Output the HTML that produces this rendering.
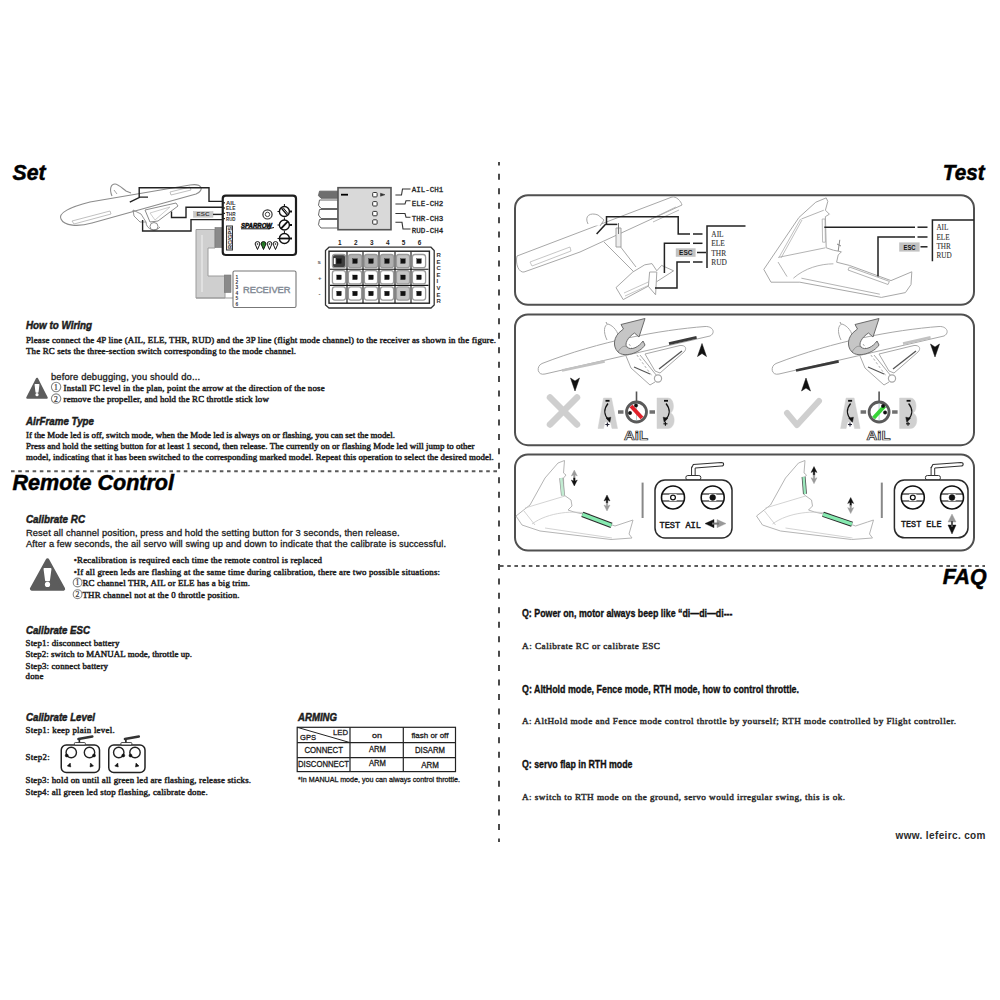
<!DOCTYPE html>
<html><head><meta charset="utf-8"><title>manual</title>
<style>html,body{margin:0;padding:0;background:#fff;width:1000px;height:1000px;overflow:hidden}svg{display:block}</style>
</head><body>
<svg width="1000" height="1000" viewBox="0 0 1000 1000">
<rect width="1000" height="1000" fill="#fff"/>
<line x1="499" y1="173.8" x2="499" y2="842" stroke="#4a4a4a" stroke-width="2" stroke-dasharray="6 8.45"/>
<line x1="499" y1="162" x2="499" y2="165.5" stroke="#4a4a4a" stroke-width="2"/>
<line x1="11" y1="471.2" x2="497" y2="471.2" stroke="#5a5a5a" stroke-width="2" stroke-dasharray="3.6 3.6"/>
<line x1="500" y1="565.9" x2="985" y2="565.9" stroke="#5a5a5a" stroke-width="2" stroke-dasharray="3.6 3.6"/>
<text x="12.6" y="179.6" font-family="Liberation Sans, sans-serif" font-weight="bold" font-style="italic" font-size="22" fill="#000" stroke="#000" stroke-width="0.5" textLength="33" lengthAdjust="spacingAndGlyphs">Set</text>
<text x="942.8" y="180.2" font-family="Liberation Sans, sans-serif" font-weight="bold" font-style="italic" font-size="21.5" fill="#000" stroke="#000" stroke-width="0.5" textLength="41.8" lengthAdjust="spacingAndGlyphs">Test</text>
<text x="12.5" y="490.3" font-family="Liberation Sans, sans-serif" font-weight="bold" font-style="italic" font-size="21.5" fill="#000" stroke="#000" stroke-width="0.5" textLength="161.5" lengthAdjust="spacingAndGlyphs">Remote Control</text>
<text x="942.7" y="583.5" font-family="Liberation Sans, sans-serif" font-weight="bold" font-style="italic" font-size="21.5" fill="#000" stroke="#000" stroke-width="0.5" textLength="44" lengthAdjust="spacingAndGlyphs">FAQ</text>
<text x="26" y="329" font-family="Liberation Sans, sans-serif" font-weight="bold" font-style="italic" font-size="11.2" fill="#1c1c1c" stroke="#1c1c1c" stroke-width="0.5" textLength="66" lengthAdjust="spacingAndGlyphs">How to Wiring</text>
<text x="26" y="342.5" font-family="Liberation Serif, sans-serif" font-weight="normal" font-style="normal" font-size="8.9" fill="#222" stroke="#222" stroke-width="0.46" textLength="470" lengthAdjust="spacing">Please connect the 4P line (AIL, ELE, THR, RUD) and the 3P line (flight mode channel) to the receiver as shown in the figure.</text>
<text x="26" y="353.75" font-family="Liberation Serif, sans-serif" font-weight="normal" font-style="normal" font-size="8.9" fill="#222" stroke="#222" stroke-width="0.46" textLength="270" lengthAdjust="spacing">The RC sets the three-section switch corresponding to the mode channel.</text>
<text x="51" y="379.5" font-family="Liberation Sans, sans-serif" font-weight="normal" font-style="normal" font-size="9.4" fill="#1c1c1c" stroke="#1c1c1c" stroke-width="0.3" textLength="149" lengthAdjust="spacing">before debugging, you should do...</text>
<text x="63.6" y="391" font-family="Liberation Serif, sans-serif" font-weight="normal" font-style="normal" font-size="8.9" fill="#222" stroke="#222" stroke-width="0.46" textLength="261" lengthAdjust="spacing">Install FC level in the plan, point the arrow at the direction of the nose</text>
<circle cx="56.1" cy="387" r="4.7" stroke="#888" stroke-width="1.1" fill="none"/>
<text x="53.9" y="389.9" font-family="Liberation Serif, sans-serif" font-weight="normal" font-style="normal" font-size="7.6" fill="#333" stroke="#333" stroke-width="0.2">1</text>
<text x="63.6" y="402" font-family="Liberation Serif, sans-serif" font-weight="normal" font-style="normal" font-size="8.9" fill="#222" stroke="#222" stroke-width="0.46" textLength="205.2" lengthAdjust="spacing">remove the propeller, and hold the RC throttle stick low</text>
<circle cx="56.1" cy="398.6" r="4.7" stroke="#888" stroke-width="1.1" fill="none"/>
<text x="53.9" y="401.5" font-family="Liberation Serif, sans-serif" font-weight="normal" font-style="normal" font-size="7.6" fill="#333" stroke="#333" stroke-width="0.2">2</text>
<text x="26" y="425" font-family="Liberation Sans, sans-serif" font-weight="bold" font-style="italic" font-size="11.2" fill="#1c1c1c" stroke="#1c1c1c" stroke-width="0.5" textLength="68" lengthAdjust="spacingAndGlyphs">AirFrame Type</text>
<text x="26" y="437.5" font-family="Liberation Serif, sans-serif" font-weight="normal" font-style="normal" font-size="8.9" fill="#222" stroke="#222" stroke-width="0.46" textLength="369" lengthAdjust="spacing">If the Mode led is off, switch mode, when the Mode led is always on or flashing, you can set the model.</text>
<text x="26" y="448.75" font-family="Liberation Serif, sans-serif" font-weight="normal" font-style="normal" font-size="8.9" fill="#222" stroke="#222" stroke-width="0.46" textLength="448.5" lengthAdjust="spacing">Press and hold the setting button for at least 1 second, then release. The currently on or flashing Mode led will jump to other</text>
<text x="26" y="459.5" font-family="Liberation Serif, sans-serif" font-weight="normal" font-style="normal" font-size="8.9" fill="#222" stroke="#222" stroke-width="0.46" textLength="467.75" lengthAdjust="spacing">model, indicating that it has been switched to the corresponding marked model. Repeat this operation to select the desired model.</text>
<text x="26" y="522.5" font-family="Liberation Sans, sans-serif" font-weight="bold" font-style="italic" font-size="11.2" fill="#1c1c1c" stroke="#1c1c1c" stroke-width="0.5" textLength="59" lengthAdjust="spacingAndGlyphs">Calibrate RC</text>
<text x="26" y="535.5" font-family="Liberation Sans, sans-serif" font-weight="normal" font-style="normal" font-size="9.3" fill="#1c1c1c" stroke="#1c1c1c" stroke-width="0.3" textLength="373.5" lengthAdjust="spacing">Reset all channel position, press and hold the setting button for 3 seconds, then release.</text>
<text x="26" y="547" font-family="Liberation Sans, sans-serif" font-weight="normal" font-style="normal" font-size="9.3" fill="#1c1c1c" stroke="#1c1c1c" stroke-width="0.3" textLength="420" lengthAdjust="spacing">After a few seconds, the ail servo will swing up and down to indicate that the calibrate is successful.</text>
<text x="73.75" y="563" font-family="Liberation Serif, sans-serif" font-weight="normal" font-style="normal" font-size="8.9" fill="#222" stroke="#222" stroke-width="0.46" textLength="248.25" lengthAdjust="spacing">•Recalibration is required each time the remote control is replaced</text>
<text x="73.75" y="575" font-family="Liberation Serif, sans-serif" font-weight="normal" font-style="normal" font-size="8.9" fill="#222" stroke="#222" stroke-width="0.46" textLength="366.25" lengthAdjust="spacing">•If all green leds are flashing at the same time during calibration, there are two possible situations:</text>
<text x="82.5" y="586" font-family="Liberation Serif, sans-serif" font-weight="normal" font-style="normal" font-size="8.9" fill="#222" stroke="#222" stroke-width="0.46" textLength="167.5" lengthAdjust="spacing">RC channel THR, AIL or ELE has a big trim.</text>
<circle cx="77.6" cy="582.5" r="4.4" stroke="#888" stroke-width="1.1" fill="none"/>
<text x="75.39999999999999" y="585.4" font-family="Liberation Serif, sans-serif" font-weight="normal" font-style="normal" font-size="7.6" fill="#333" stroke="#333" stroke-width="0.2">1</text>
<text x="82.5" y="597.5" font-family="Liberation Serif, sans-serif" font-weight="normal" font-style="normal" font-size="8.9" fill="#222" stroke="#222" stroke-width="0.46" textLength="157" lengthAdjust="spacing">THR channel not at the 0 throttle position.</text>
<circle cx="77.6" cy="594.2" r="4.4" stroke="#888" stroke-width="1.1" fill="none"/>
<text x="75.39999999999999" y="597.1" font-family="Liberation Serif, sans-serif" font-weight="normal" font-style="normal" font-size="7.6" fill="#333" stroke="#333" stroke-width="0.2">2</text>
<text x="26" y="633.5" font-family="Liberation Sans, sans-serif" font-weight="bold" font-style="italic" font-size="11.2" fill="#1c1c1c" stroke="#1c1c1c" stroke-width="0.5" textLength="64" lengthAdjust="spacingAndGlyphs">Calibrate ESC</text>
<text x="25.6" y="646" font-family="Liberation Serif, sans-serif" font-weight="normal" font-style="normal" font-size="8.9" fill="#222" stroke="#222" stroke-width="0.46" textLength="93.8" lengthAdjust="spacing">Step1: disconnect battery</text>
<text x="25.6" y="657.4" font-family="Liberation Serif, sans-serif" font-weight="normal" font-style="normal" font-size="8.9" fill="#222" stroke="#222" stroke-width="0.46" textLength="166.4" lengthAdjust="spacing">Step2: switch to MANUAL mode, throttle up.</text>
<text x="25.6" y="669" font-family="Liberation Serif, sans-serif" font-weight="normal" font-style="normal" font-size="8.9" fill="#222" stroke="#222" stroke-width="0.46" textLength="82.4" lengthAdjust="spacing">Step3: connect battery</text>
<text x="25.6" y="679.4" font-family="Liberation Serif, sans-serif" font-weight="normal" font-style="normal" font-size="8.9" fill="#222" stroke="#222" stroke-width="0.46" textLength="17.8" lengthAdjust="spacing">done</text>
<text x="26" y="720.5" font-family="Liberation Sans, sans-serif" font-weight="bold" font-style="italic" font-size="11.2" fill="#1c1c1c" stroke="#1c1c1c" stroke-width="0.5" textLength="69" lengthAdjust="spacingAndGlyphs">Calibrate Level</text>
<text x="25.6" y="733" font-family="Liberation Serif, sans-serif" font-weight="normal" font-style="normal" font-size="8.9" fill="#222" stroke="#222" stroke-width="0.46" textLength="89" lengthAdjust="spacing">Step1: keep plain level.</text>
<text x="25.6" y="759.5" font-family="Liberation Serif, sans-serif" font-weight="normal" font-style="normal" font-size="8.9" fill="#222" stroke="#222" stroke-width="0.46" textLength="24" lengthAdjust="spacing">Step2:</text>
<text x="25.6" y="782.5" font-family="Liberation Serif, sans-serif" font-weight="normal" font-style="normal" font-size="8.9" fill="#222" stroke="#222" stroke-width="0.46" textLength="225.4" lengthAdjust="spacing">Step3: hold on until all green led are flashing, release sticks.</text>
<text x="25.6" y="794.5" font-family="Liberation Serif, sans-serif" font-weight="normal" font-style="normal" font-size="8.9" fill="#222" stroke="#222" stroke-width="0.46" textLength="182" lengthAdjust="spacing">Step4: all green led stop flashing, calibrate done.</text>
<text x="298" y="720.5" font-family="Liberation Sans, sans-serif" font-weight="bold" font-style="italic" font-size="11.2" fill="#1c1c1c" stroke="#1c1c1c" stroke-width="0.5" textLength="39" lengthAdjust="spacingAndGlyphs">ARMING</text>
<rect x="297.2" y="727.3" width="158.3" height="44.3" rx="0" stroke="#222" stroke-width="1.2" fill="none"/>
<line x1="350" y1="727.3" x2="350" y2="771.6" stroke="#222" stroke-width="1.2"/>
<line x1="403.3" y1="727.3" x2="403.3" y2="771.6" stroke="#222" stroke-width="1.2"/>
<line x1="297.2" y1="742.6" x2="455.5" y2="742.6" stroke="#222" stroke-width="1.2"/>
<line x1="297.2" y1="757.6" x2="455.5" y2="757.6" stroke="#222" stroke-width="1.2"/>
<line x1="297.2" y1="727.3" x2="350" y2="742.6" stroke="#222" stroke-width="1"/>
<text x="333" y="735" font-family="Liberation Sans, sans-serif" font-weight="normal" font-style="normal" font-size="8" fill="#1c1c1c" stroke="#1c1c1c" stroke-width="0.3" textLength="15" lengthAdjust="spacingAndGlyphs">LED</text>
<text x="300" y="740" font-family="Liberation Sans, sans-serif" font-weight="normal" font-style="normal" font-size="8" fill="#1c1c1c" stroke="#1c1c1c" stroke-width="0.3" textLength="16" lengthAdjust="spacingAndGlyphs">GPS</text>
<text x="372" y="738" font-family="Liberation Sans, sans-serif" font-weight="normal" font-style="normal" font-size="8" fill="#1c1c1c" stroke="#1c1c1c" stroke-width="0.3" textLength="10" lengthAdjust="spacingAndGlyphs">on</text>
<text x="411.4" y="738" font-family="Liberation Sans, sans-serif" font-weight="normal" font-style="normal" font-size="8" fill="#1c1c1c" stroke="#1c1c1c" stroke-width="0.3" textLength="37" lengthAdjust="spacingAndGlyphs">flash or off</text>
<text x="304.4" y="753" font-family="Liberation Sans, sans-serif" font-weight="normal" font-style="normal" font-size="8.4" fill="#1c1c1c" stroke="#1c1c1c" stroke-width="0.3" textLength="38.6" lengthAdjust="spacingAndGlyphs">CONNECT</text>
<text x="369" y="752" font-family="Liberation Sans, sans-serif" font-weight="normal" font-style="normal" font-size="8.4" fill="#1c1c1c" stroke="#1c1c1c" stroke-width="0.3" textLength="17" lengthAdjust="spacingAndGlyphs">ARM</text>
<text x="415" y="752.5" font-family="Liberation Sans, sans-serif" font-weight="normal" font-style="normal" font-size="8.4" fill="#1c1c1c" stroke="#1c1c1c" stroke-width="0.3" textLength="30" lengthAdjust="spacingAndGlyphs">DISARM</text>
<text x="298" y="767.4" font-family="Liberation Sans, sans-serif" font-weight="normal" font-style="normal" font-size="8.4" fill="#1c1c1c" stroke="#1c1c1c" stroke-width="0.3" textLength="51" lengthAdjust="spacingAndGlyphs">DISCONNECT</text>
<text x="369" y="766" font-family="Liberation Sans, sans-serif" font-weight="normal" font-style="normal" font-size="8.4" fill="#1c1c1c" stroke="#1c1c1c" stroke-width="0.3" textLength="17" lengthAdjust="spacingAndGlyphs">ARM</text>
<text x="421.3" y="768" font-family="Liberation Sans, sans-serif" font-weight="normal" font-style="normal" font-size="8.4" fill="#1c1c1c" stroke="#1c1c1c" stroke-width="0.3" textLength="17.7" lengthAdjust="spacingAndGlyphs">ARM</text>
<text x="298" y="781.8" font-family="Liberation Sans, sans-serif" font-weight="normal" font-style="normal" font-size="7.2" fill="#1c1c1c" stroke="#1c1c1c" stroke-width="0.3" textLength="162" lengthAdjust="spacingAndGlyphs">*In MANUAL mode, you can always control throttle.</text>
<text x="522" y="617" font-family="Liberation Sans, sans-serif" font-weight="bold" font-style="normal" font-size="10.8" fill="#111" stroke="#111" stroke-width="0.35" textLength="210.5" lengthAdjust="spacingAndGlyphs">Q: Power on, motor always beep like “di—di—di---</text>
<text x="522" y="648.5" font-family="Liberation Serif, sans-serif" font-weight="normal" font-style="normal" font-size="9.2" fill="#2e2e2e" stroke="#2e2e2e" stroke-width="0.46" textLength="138" lengthAdjust="spacing">A: Calibrate RC or calibrate ESC</text>
<text x="522" y="693" font-family="Liberation Sans, sans-serif" font-weight="bold" font-style="normal" font-size="10.8" fill="#111" stroke="#111" stroke-width="0.35" textLength="277" lengthAdjust="spacingAndGlyphs">Q: AltHold mode, Fence mode, RTH mode, how to control throttle.</text>
<text x="522" y="724" font-family="Liberation Serif, sans-serif" font-weight="normal" font-style="normal" font-size="9.2" fill="#2e2e2e" stroke="#2e2e2e" stroke-width="0.46" textLength="434" lengthAdjust="spacing">A: AltHold mode and Fence mode control throttle by yourself; RTH mode controlled by Flight controller.</text>
<text x="522" y="768" font-family="Liberation Sans, sans-serif" font-weight="bold" font-style="normal" font-size="10.8" fill="#111" stroke="#111" stroke-width="0.35" textLength="110.5" lengthAdjust="spacingAndGlyphs">Q: servo flap in RTH mode</text>
<text x="522" y="800" font-family="Liberation Serif, sans-serif" font-weight="normal" font-style="normal" font-size="9.2" fill="#2e2e2e" stroke="#2e2e2e" stroke-width="0.46" textLength="323" lengthAdjust="spacing">A: switch to RTH mode on the ground, servo would irregular swing, this is ok.</text>
<text x="895.5" y="838.5" font-family="Liberation Sans, sans-serif" font-weight="bold" font-style="normal" font-size="10" fill="#2a2a2a" textLength="90" lengthAdjust="spacing">www. lefeirc. com</text>
<path d="M61,219 C58,213 70,207 90,202 L190,185 C202,183 205,190 196,194 L92,223 C78,227 64,226 61,219 Z" stroke="#8c8c8c" stroke-width="1.1" fill="#fff"/>
<path d="M72,221 L110,211 L111,214 L74,224 Z" stroke="#b0b0b0" stroke-width="0.8" fill="none"/>
<path d="M170,192 L190,187 L191,190 L171,195 Z" stroke="#b0b0b0" stroke-width="0.8" fill="none"/>
<path d="M112,196 C109,189 111,184 115,184 C118,184 122,188 126,191 L131,193" stroke="#8c8c8c" stroke-width="1.1" fill="#fff"/>
<path d="M114,190 L117,194" stroke="#8c8c8c" stroke-width="0.8" fill="none"/>
<path d="M145,210 L176,203 L178,206 L158,221 L150,222 Z" stroke="#8c8c8c" stroke-width="1" fill="none"/>
<path d="M150,213 L170,207 L155,220 Z" stroke="#c0c0c0" stroke-width="0.8" fill="none"/>
<path d="M133,210 L141,214 L146,222 L140,222 L134,216 Z" stroke="#8c8c8c" stroke-width="0.9" fill="none"/>
<circle cx="154" cy="226.5" r="4" stroke="#8c8c8c" stroke-width="1" fill="none"/>
<path d="M146,222 C146,230 156,232 160,227" stroke="#8c8c8c" stroke-width="1" fill="none"/>
<polyline points="129.8,202.2 140,197.1 148,197.1" stroke="#222" stroke-width="1.4" fill="none"/>
<polyline points="139.2,197 139.2,187.8 209,187.8 209,201.4 223,201.4" stroke="#222" stroke-width="1.4" fill="none"/>
<polyline points="171.5,211.6 171.5,217.5 186,217.5 186,207.3 223,207.3" stroke="#222" stroke-width="1.4" fill="none"/>
<rect x="193.6" y="211.6" width="19.4" height="5.6" rx="0" stroke="#bbb" stroke-width="0.5" fill="#c9c9c9"/>
<text x="196.5" y="216.4" font-family="Liberation Sans, sans-serif" font-weight="bold" font-style="normal" font-size="5.2" fill="#444" textLength="13" lengthAdjust="spacingAndGlyphs">ESC</text>
<line x1="213" y1="214.4" x2="223" y2="214.4" stroke="#222" stroke-width="1.4"/>
<polyline points="223,219.6 191,219.6 191,231 142.6,231 142.6,220" stroke="#222" stroke-width="1.4" fill="none"/>
<polygon points="215,229.5 196,229.5 196,298 225,298 225,276 208,276 208,248 215,248" stroke="#9c9c9c" stroke-width="1" fill="#cfcfcf"/>
<line x1="202" y1="235" x2="202" y2="292" stroke="#e6e6e6" stroke-width="1.5"/>
<line x1="196" y1="298" x2="233" y2="298" stroke="#999" stroke-width="1.2"/>
<rect x="215" y="227.5" width="7.5" height="20" rx="0" stroke="#777" stroke-width="0.6" fill="#8a8a8a"/>
<rect x="222.75" y="195.6" width="73.25" height="59.4" rx="3" stroke="#1e1e1e" stroke-width="2.2" fill="#fff"/>
<text x="226" y="205" font-family="Liberation Sans, sans-serif" font-weight="bold" font-style="normal" font-size="5.6" fill="#333" textLength="9.5" lengthAdjust="spacingAndGlyphs">AIL</text>
<line x1="222" y1="202.8" x2="225" y2="202.8" stroke="#222" stroke-width="1.2"/>
<text x="226" y="210.2" font-family="Liberation Sans, sans-serif" font-weight="bold" font-style="normal" font-size="5.6" fill="#333" textLength="9.5" lengthAdjust="spacingAndGlyphs">ELE</text>
<line x1="222" y1="208.0" x2="225" y2="208.0" stroke="#222" stroke-width="1.2"/>
<text x="226" y="215.6" font-family="Liberation Sans, sans-serif" font-weight="bold" font-style="normal" font-size="5.6" fill="#333" textLength="9.5" lengthAdjust="spacingAndGlyphs">THR</text>
<line x1="222" y1="213.4" x2="225" y2="213.4" stroke="#222" stroke-width="1.2"/>
<text x="226" y="220.8" font-family="Liberation Sans, sans-serif" font-weight="bold" font-style="normal" font-size="5.6" fill="#333" textLength="9.5" lengthAdjust="spacingAndGlyphs">RUD</text>
<line x1="222" y1="218.60000000000002" x2="225" y2="218.60000000000002" stroke="#222" stroke-width="1.2"/>
<rect x="226.5" y="226" width="6" height="24" rx="0" stroke="#333" stroke-width="1" fill="#eee"/>
<text transform="translate(231.6,249) rotate(-90)" font-family="Liberation Sans, sans-serif" font-weight="bold" font-size="5.5" fill="#333" textLength="22" lengthAdjust="spacingAndGlyphs">RC/GPS</text>
<circle cx="267.5" cy="214.4" r="4.6" stroke="#333" stroke-width="1.2" fill="#fff"/>
<circle cx="267.5" cy="214.4" r="2.2" stroke="#444" stroke-width="1" fill="#fff"/>
<text x="241" y="227.5" font-family="Liberation Sans, sans-serif" font-weight="bold" font-style="italic" font-size="6.5" fill="#111" stroke="#111" stroke-width="0.5" textLength="31" lengthAdjust="spacingAndGlyphs">SPARROW</text>
<line x1="241" y1="228.8" x2="270" y2="228.8" stroke="#111" stroke-width="1"/>
<path d="M268,228.8 L274,227.5" stroke="#111" stroke-width="1" fill="none"/>
<circle cx="284.4" cy="211.5" r="5" stroke="#111" stroke-width="1.4" fill="#fff"/>
<line x1="281.5" y1="208.3" x2="287" y2="214.9" stroke="#111" stroke-width="1.4"/>
<line x1="283" y1="207.5" x2="288.2" y2="213.9" stroke="#111" stroke-width="1.0"/>
<line x1="277.5" y1="211.5" x2="279.4" y2="211.5" stroke="#111" stroke-width="1"/>
<line x1="289.4" y1="211.5" x2="292" y2="211.5" stroke="#111" stroke-width="2"/>
<line x1="284.4" y1="204.0" x2="284.4" y2="206.5" stroke="#111" stroke-width="1"/>
<circle cx="284.4" cy="225" r="5" stroke="#111" stroke-width="1.4" fill="#fff"/>
<line x1="281" y1="228.6" x2="287.8" y2="221.4" stroke="#111" stroke-width="1.8"/>
<line x1="277.5" y1="225" x2="279.4" y2="225" stroke="#111" stroke-width="1"/>
<line x1="289.4" y1="225" x2="292" y2="225" stroke="#111" stroke-width="2"/>
<line x1="284.4" y1="217.5" x2="284.4" y2="220" stroke="#111" stroke-width="1"/>
<circle cx="284.4" cy="238.5" r="5" stroke="#111" stroke-width="1.4" fill="#fff"/>
<line x1="279.8" y1="238.5" x2="289" y2="238.5" stroke="#111" stroke-width="1.8"/>
<line x1="277.5" y1="238.5" x2="279.4" y2="238.5" stroke="#111" stroke-width="1"/>
<line x1="289.4" y1="238.5" x2="292" y2="238.5" stroke="#111" stroke-width="2"/>
<line x1="284.4" y1="231.0" x2="284.4" y2="233.5" stroke="#111" stroke-width="1"/>
<path d="M255.1,244 A2.4,2.4 0 1 1 259.9,244 L257.5,249.5 Z" stroke="#111" stroke-width="1" fill="#fff"/>
<circle cx="257.5" cy="244" r="0.8" stroke="none" stroke-width="0" fill="#111"/>
<path d="M261.1,244 A2.4,2.4 0 1 1 265.9,244 L263.5,249.5 Z" stroke="#111" stroke-width="1" fill="#2a8a2a"/>
<circle cx="263.5" cy="244" r="0.8" stroke="none" stroke-width="0" fill="#1a5a1a"/>
<path d="M267.1,244 A2.4,2.4 0 1 1 271.9,244 L269.5,249.5 Z" stroke="#111" stroke-width="1" fill="#fff"/>
<circle cx="269.5" cy="244" r="0.8" stroke="none" stroke-width="0" fill="#111"/>
<path d="M273.1,244 A2.4,2.4 0 1 1 277.9,244 L275.5,249.5 Z" stroke="#111" stroke-width="1" fill="#fff"/>
<circle cx="275.5" cy="244" r="0.8" stroke="none" stroke-width="0" fill="#111"/>
<rect x="224.4" y="275" width="6.6" height="17.5" rx="0" stroke="#777" stroke-width="0.6" fill="#8a8a8a"/>
<rect x="233" y="271" width="63" height="36.5" rx="1.5" stroke="#777" stroke-width="1.1" fill="#fff"/>
<text x="235.5" y="278.5" font-family="Liberation Sans, sans-serif" font-weight="bold" font-style="normal" font-size="4.8" fill="#334">1</text>
<text x="235.5" y="283.9" font-family="Liberation Sans, sans-serif" font-weight="bold" font-style="normal" font-size="4.8" fill="#334">2</text>
<text x="235.5" y="289.3" font-family="Liberation Sans, sans-serif" font-weight="bold" font-style="normal" font-size="4.8" fill="#334">3</text>
<text x="235.5" y="294.7" font-family="Liberation Sans, sans-serif" font-weight="bold" font-style="normal" font-size="4.8" fill="#334">4</text>
<text x="235.5" y="300.1" font-family="Liberation Sans, sans-serif" font-weight="bold" font-style="normal" font-size="4.8" fill="#334">5</text>
<text x="235.5" y="305.5" font-family="Liberation Sans, sans-serif" font-weight="bold" font-style="normal" font-size="4.8" fill="#334">6</text>
<text x="243" y="292.7" font-family="Liberation Sans, sans-serif" font-weight="normal" font-style="normal" font-size="9.6" fill="#848c96" stroke="#848c96" stroke-width="0.45" textLength="47.5" lengthAdjust="spacingAndGlyphs">RECEIVER</text>
<polygon points="319.5,191.2 338,191.2 338,198.2 321,198.2 318.5,195.7" stroke="#666" stroke-width="1" fill="#6e6e6e"/>
<polygon points="319.5,200 338,200 338,208.5 321,208.5 318.5,205.25" stroke="#666" stroke-width="1" fill="#fff"/>
<polygon points="319.5,209.5 338,209.5 338,218.5 321,218.5 318.5,215.0" stroke="#666" stroke-width="1" fill="#fff"/>
<polygon points="319.5,219.5 338,219.5 338,228 321,228 318.5,224.75" stroke="#666" stroke-width="1" fill="#fff"/>
<rect x="338" y="187.7" width="53" height="42" rx="0" stroke="#555" stroke-width="1.6" fill="#d9d9d9"/>
<line x1="341" y1="194.7" x2="348" y2="194.7" stroke="#000" stroke-width="1.8"/>
<rect x="372.7" y="192.5" width="4.4" height="4.4" rx="0.8" stroke="#333" stroke-width="1" fill="#fff"/>
<rect x="372.7" y="201.60000000000002" width="4.4" height="4.4" rx="0.8" stroke="#333" stroke-width="1" fill="#fff"/>
<rect x="372.7" y="211.4" width="4.4" height="4.4" rx="0.8" stroke="#333" stroke-width="1" fill="#fff"/>
<rect x="372.7" y="219.8" width="4.4" height="4.4" rx="0.8" stroke="#333" stroke-width="1" fill="#fff"/>
<polygon points="380.5,193.2 385,194.7 380.5,196.2" stroke="#333" stroke-width="0.5" fill="#333"/>
<polyline points="395.4,195 401.5,195 402.5,189 410.5,189" stroke="#333" stroke-width="1.1" fill="none"/>
<polyline points="395.4,204 405,204 406,200.8 410.5,200.8" stroke="#333" stroke-width="1.1" fill="none"/>
<polyline points="395.4,213.5 405,213.5 406,217.2 410.5,217.2" stroke="#333" stroke-width="1.1" fill="none"/>
<polyline points="395.4,222.3 402,222.3 403,229 410.5,229" stroke="#333" stroke-width="1.1" fill="none"/>
<text x="411.8" y="192.2" font-family="Liberation Mono, sans-serif" font-weight="normal" font-style="normal" font-size="8" fill="#222" stroke="#222" stroke-width="0.3" textLength="31.5" lengthAdjust="spacingAndGlyphs">AIL-CH1</text>
<text x="411.8" y="206.2" font-family="Liberation Mono, sans-serif" font-weight="normal" font-style="normal" font-size="8" fill="#222" stroke="#222" stroke-width="0.3" textLength="31.5" lengthAdjust="spacingAndGlyphs">ELE-CH2</text>
<text x="411.8" y="221.2" font-family="Liberation Mono, sans-serif" font-weight="normal" font-style="normal" font-size="8" fill="#222" stroke="#222" stroke-width="0.3" textLength="31.5" lengthAdjust="spacingAndGlyphs">THR-CH3</text>
<text x="411.8" y="233.3" font-family="Liberation Mono, sans-serif" font-weight="normal" font-style="normal" font-size="8" fill="#222" stroke="#222" stroke-width="0.3" textLength="31.5" lengthAdjust="spacingAndGlyphs">RUD-CH4</text>
<text x="338.09999999999997" y="245.2" font-family="Liberation Sans, sans-serif" font-weight="bold" font-style="normal" font-size="6.4" fill="#222">1</text>
<text x="353.9" y="245.2" font-family="Liberation Sans, sans-serif" font-weight="bold" font-style="normal" font-size="6.4" fill="#222">2</text>
<text x="370.0" y="245.2" font-family="Liberation Sans, sans-serif" font-weight="bold" font-style="normal" font-size="6.4" fill="#222">3</text>
<text x="386.0" y="245.2" font-family="Liberation Sans, sans-serif" font-weight="bold" font-style="normal" font-size="6.4" fill="#222">4</text>
<text x="401.79999999999995" y="245.2" font-family="Liberation Sans, sans-serif" font-weight="bold" font-style="normal" font-size="6.4" fill="#222">5</text>
<text x="417.79999999999995" y="245.2" font-family="Liberation Sans, sans-serif" font-weight="bold" font-style="normal" font-size="6.4" fill="#222">6</text>
<polygon points="329,247.2 431,247.2 434.2,250.5 434.2,305 431,308 329,308 325.5,305 325.5,250.5" stroke="#333" stroke-width="1.3" fill="#fff"/>
<rect x="329" y="251.2" width="100.4" height="52" rx="0" stroke="#222" stroke-width="1.4" fill="#fff"/>
<line x1="347" y1="252" x2="347" y2="303" stroke="#111" stroke-width="1.1"/>
<line x1="363" y1="252" x2="363" y2="303" stroke="#111" stroke-width="1.1"/>
<line x1="379" y1="252" x2="379" y2="303" stroke="#111" stroke-width="1.1"/>
<line x1="395" y1="252" x2="395" y2="303" stroke="#111" stroke-width="1.1"/>
<line x1="411" y1="252" x2="411" y2="303" stroke="#111" stroke-width="1.1"/>
<line x1="330" y1="269.2" x2="428.5" y2="269.2" stroke="#111" stroke-width="1.1"/>
<line x1="330" y1="285.4" x2="428.5" y2="285.4" stroke="#111" stroke-width="1.1"/>
<rect x="332.4" y="254.50000000000003" width="13.2" height="13.2" rx="2.5" stroke="#9a9a9a" stroke-width="1.3" fill="#3e3e3e"/>
<rect x="333.8" y="258.1" width="1.8" height="6" rx="0" stroke="none" stroke-width="0" fill="#fff"/>
<rect x="336.7" y="258.8" width="4.6" height="4.6" rx="0" stroke="#111" stroke-width="0.3" fill="#111"/>
<rect x="348.4" y="254.50000000000003" width="13.2" height="13.2" rx="2.5" stroke="#9a9a9a" stroke-width="1.3" fill="#b0b0b0"/>
<rect x="352.7" y="258.8" width="4.6" height="4.6" rx="0" stroke="#111" stroke-width="0.3" fill="#111"/>
<rect x="364.4" y="254.50000000000003" width="13.2" height="13.2" rx="2.5" stroke="#9a9a9a" stroke-width="1.3" fill="#b0b0b0"/>
<rect x="368.7" y="258.8" width="4.6" height="4.6" rx="0" stroke="#111" stroke-width="0.3" fill="#111"/>
<rect x="380.4" y="254.50000000000003" width="13.2" height="13.2" rx="2.5" stroke="#9a9a9a" stroke-width="1.3" fill="#b0b0b0"/>
<rect x="384.7" y="258.8" width="4.6" height="4.6" rx="0" stroke="#111" stroke-width="0.3" fill="#111"/>
<rect x="396.4" y="254.50000000000003" width="13.2" height="13.2" rx="2.5" stroke="#9a9a9a" stroke-width="1.3" fill="#c4c4c4"/>
<rect x="400.7" y="258.8" width="4.6" height="4.6" rx="0" stroke="#111" stroke-width="0.3" fill="#111"/>
<rect x="412.4" y="254.50000000000003" width="13.2" height="13.2" rx="2.5" stroke="#9a9a9a" stroke-width="1.3" fill="#fff"/>
<rect x="416.7" y="258.8" width="4.6" height="4.6" rx="0" stroke="#111" stroke-width="0.3" fill="#111"/>
<rect x="332.4" y="270.7" width="13.2" height="13.2" rx="2.5" stroke="#9a9a9a" stroke-width="1.3" fill="#fff"/>
<rect x="336.7" y="275.0" width="4.6" height="4.6" rx="0" stroke="#111" stroke-width="0.3" fill="#111"/>
<rect x="348.4" y="270.7" width="13.2" height="13.2" rx="2.5" stroke="#9a9a9a" stroke-width="1.3" fill="#fff"/>
<rect x="352.7" y="275.0" width="4.6" height="4.6" rx="0" stroke="#111" stroke-width="0.3" fill="#111"/>
<rect x="364.4" y="270.7" width="13.2" height="13.2" rx="2.5" stroke="#9a9a9a" stroke-width="1.3" fill="#fff"/>
<rect x="368.7" y="275.0" width="4.6" height="4.6" rx="0" stroke="#111" stroke-width="0.3" fill="#111"/>
<rect x="380.4" y="270.7" width="13.2" height="13.2" rx="2.5" stroke="#9a9a9a" stroke-width="1.3" fill="#fff"/>
<rect x="384.7" y="275.0" width="4.6" height="4.6" rx="0" stroke="#111" stroke-width="0.3" fill="#111"/>
<rect x="396.4" y="270.7" width="13.2" height="13.2" rx="2.5" stroke="#9a9a9a" stroke-width="1.3" fill="#c4c4c4"/>
<rect x="400.7" y="275.0" width="4.6" height="4.6" rx="0" stroke="#111" stroke-width="0.3" fill="#111"/>
<rect x="412.4" y="270.7" width="13.2" height="13.2" rx="2.5" stroke="#9a9a9a" stroke-width="1.3" fill="#fff"/>
<rect x="416.7" y="275.0" width="4.6" height="4.6" rx="0" stroke="#111" stroke-width="0.3" fill="#111"/>
<rect x="332.4" y="286.9" width="13.2" height="13.2" rx="2.5" stroke="#9a9a9a" stroke-width="1.3" fill="#fff"/>
<rect x="336.7" y="291.2" width="4.6" height="4.6" rx="0" stroke="#111" stroke-width="0.3" fill="#111"/>
<rect x="348.4" y="286.9" width="13.2" height="13.2" rx="2.5" stroke="#9a9a9a" stroke-width="1.3" fill="#fff"/>
<rect x="352.7" y="291.2" width="4.6" height="4.6" rx="0" stroke="#111" stroke-width="0.3" fill="#111"/>
<rect x="364.4" y="286.9" width="13.2" height="13.2" rx="2.5" stroke="#9a9a9a" stroke-width="1.3" fill="#fff"/>
<rect x="368.7" y="291.2" width="4.6" height="4.6" rx="0" stroke="#111" stroke-width="0.3" fill="#111"/>
<rect x="380.4" y="286.9" width="13.2" height="13.2" rx="2.5" stroke="#9a9a9a" stroke-width="1.3" fill="#fff"/>
<rect x="384.7" y="291.2" width="4.6" height="4.6" rx="0" stroke="#111" stroke-width="0.3" fill="#111"/>
<rect x="396.4" y="286.9" width="13.2" height="13.2" rx="2.5" stroke="#9a9a9a" stroke-width="1.3" fill="#c4c4c4"/>
<rect x="400.7" y="291.2" width="4.6" height="4.6" rx="0" stroke="#111" stroke-width="0.3" fill="#111"/>
<rect x="412.4" y="286.9" width="13.2" height="13.2" rx="2.5" stroke="#9a9a9a" stroke-width="1.3" fill="#fff"/>
<rect x="416.7" y="291.2" width="4.6" height="4.6" rx="0" stroke="#111" stroke-width="0.3" fill="#111"/>
<text x="317.5" y="263.5" font-family="Liberation Sans, sans-serif" font-weight="bold" font-style="normal" font-size="6" fill="#555">s</text>
<text x="318" y="279.5" font-family="Liberation Sans, sans-serif" font-weight="bold" font-style="normal" font-size="6" fill="#555">+</text>
<text x="318.5" y="295.5" font-family="Liberation Sans, sans-serif" font-weight="bold" font-style="normal" font-size="6" fill="#555">-</text>
<text x="436.5" y="257.0" font-family="Liberation Sans, sans-serif" font-weight="bold" font-style="normal" font-size="6" fill="#333">R</text>
<text x="436.5" y="263.6" font-family="Liberation Sans, sans-serif" font-weight="bold" font-style="normal" font-size="6" fill="#333">E</text>
<text x="436.5" y="270.2" font-family="Liberation Sans, sans-serif" font-weight="bold" font-style="normal" font-size="6" fill="#333">C</text>
<text x="436.5" y="276.8" font-family="Liberation Sans, sans-serif" font-weight="bold" font-style="normal" font-size="6" fill="#333">E</text>
<text x="436.5" y="283.4" font-family="Liberation Sans, sans-serif" font-weight="bold" font-style="normal" font-size="6" fill="#333">I</text>
<text x="436.5" y="290.0" font-family="Liberation Sans, sans-serif" font-weight="bold" font-style="normal" font-size="6" fill="#333">V</text>
<text x="436.5" y="296.6" font-family="Liberation Sans, sans-serif" font-weight="bold" font-style="normal" font-size="6" fill="#333">E</text>
<text x="436.5" y="303.2" font-family="Liberation Sans, sans-serif" font-weight="bold" font-style="normal" font-size="6" fill="#333">R</text>
<polygon points="37.0,378.82 46.68,397.68 27.32,397.68" stroke="#5c5c5c" stroke-width="2.2" fill="#5c5c5c" stroke-linejoin="round"/>
<polygon points="35.13,384.595 38.87,384.595 37.935,392.12 36.065,392.12" stroke="#fff" stroke-width="1.122" fill="#fff" stroke-linejoin="round"/>
<circle cx="37.0" cy="394.7" r="1.5895000000000001" stroke="none" stroke-width="0" fill="#fff"/>
<polygon points="47.5,560.16 63.34,588.84 31.66,588.84" stroke="#5c5c5c" stroke-width="3.6" fill="#5c5c5c" stroke-linejoin="round"/>
<polygon points="44.44,568.89 50.56,568.89 49.03,580.44 45.97,580.44" stroke="#fff" stroke-width="1.8359999999999999" fill="#fff" stroke-linejoin="round"/>
<circle cx="47.5" cy="584.4" r="2.601" stroke="none" stroke-width="0" fill="#fff"/>
<rect x="515" y="195.2" width="459" height="109.6" rx="13" stroke="#505050" stroke-width="2" fill="none"/>
<rect x="515" y="314.4" width="459" height="130.8" rx="13" stroke="#505050" stroke-width="2" fill="none"/>
<rect x="515" y="454.6" width="459" height="96" rx="13" stroke="#505050" stroke-width="2" fill="none"/>
<path d="M517,256 L672,197 C676,196 681,201 682,205 L580,252 L524,272 C519,273 515,264 517,256 Z" stroke="#a8a8a8" stroke-width="1" fill="#fff"/>
<path d="M651,219 L676,207 M653,222 L679,210" stroke="#b0b0b0" stroke-width="0.9" fill="none"/>
<path d="M530,262 L570,247 L571,251 L532,266 Z" stroke="#b8b8b8" stroke-width="0.8" fill="none"/>
<path d="M588,224 C584,216 590,212 598,215 L604,220 L600,226" stroke="#a8a8a8" stroke-width="1" fill="#fff"/>
<path d="M604,242 L645,283 M619.6,245.6 L636,267" stroke="#a8a8a8" stroke-width="1" fill="none"/>
<path d="M616,287.6 L632.8,272 L644.8,264.8 L652,263.6 L656.8,270.8 L661.6,265.4 L673.6,270.8 L656.8,281.6 L623.2,299.6 Z" stroke="#a8a8a8" stroke-width="1" fill="#fff"/>
<path d="M624,293 L655,279 M625,296 L656,282" stroke="#b8b8b8" stroke-width="0.8" fill="none"/>
<path d="M649.6,272 L656.8,272 L655.6,294.8 L648.4,286.4 Z" stroke="#a8a8a8" stroke-width="1" fill="#fff"/>
<path d="M616,228 L621,228 L621,247 L616,247 Z" stroke="#999" stroke-width="0.9" fill="#eee"/>
<line x1="618.5" y1="223" x2="618.5" y2="234" stroke="#777" stroke-width="1"/>
<polyline points="596.6,234 605.8,224" stroke="#222" stroke-width="1.5" fill="none"/>
<line x1="605.8" y1="224.4" x2="617.3" y2="224.4" stroke="#222" stroke-width="1.5"/>
<polyline points="606.5,224.4 606.5,216.8 678.2,216.8 678.2,234 690,234" stroke="#222" stroke-width="1.5" fill="none"/>
<polyline points="664.4,273 664.4,243.3 690,243.3" stroke="#222" stroke-width="1.5" fill="none"/>
<polyline points="655,288 677,288 677,262 690,262" stroke="#222" stroke-width="1.5" fill="none"/>
<line x1="693" y1="234" x2="702.5" y2="234" stroke="#222" stroke-width="1.5"/>
<line x1="693" y1="243.3" x2="702.5" y2="243.3" stroke="#222" stroke-width="1.5"/>
<line x1="693" y1="262" x2="702.5" y2="262" stroke="#222" stroke-width="1.5"/>
<rect x="675.8" y="248.3" width="19.8" height="8.5" rx="0" stroke="none" stroke-width="0" fill="#c2c2c2"/>
<text x="679" y="255.2" font-family="Liberation Sans, sans-serif" font-weight="bold" font-style="normal" font-size="6.8" fill="#1a1a1a" textLength="13.5" lengthAdjust="spacingAndGlyphs">ESC</text>
<line x1="697" y1="252.5" x2="706" y2="252.5" stroke="#222" stroke-width="1.5"/>
<polyline points="745.5,226 707,226 707,268" stroke="#222" stroke-width="1.5" fill="none"/>
<text x="711.3" y="236.8" font-family="Liberation Serif, sans-serif" font-weight="normal" font-style="normal" font-size="7.4" fill="#333" stroke="#333" stroke-width="0.1">AIL</text>
<text x="711.3" y="245.9" font-family="Liberation Serif, sans-serif" font-weight="normal" font-style="normal" font-size="7.4" fill="#333" stroke="#333" stroke-width="0.1">ELE</text>
<text x="711.3" y="255.5" font-family="Liberation Serif, sans-serif" font-weight="normal" font-style="normal" font-size="7.4" fill="#333" stroke="#333" stroke-width="0.1">THR</text>
<text x="711.3" y="264.5" font-family="Liberation Serif, sans-serif" font-weight="normal" font-style="normal" font-size="7.4" fill="#333" stroke="#333" stroke-width="0.1">RUD</text>
<path d="M763.8,269.4 L799,217.4 L815.8,202.2 L826.2,197.9 L827.8,201.4 L825.4,210.2 L829.4,214.2 L825.4,216.6 L826.2,247.8 L833.4,250.2 L841.4,251.8 L838.2,255 L836.6,262.2 L849.4,265.4 L891,280.6 L911.8,271.8 L911,284.6 L905.4,292.6 L881.4,297.4 L799.8,282.2 L771,282.2 Z" stroke="#a8a8a8" stroke-width="1" fill="#fff"/>
<path d="M778.2,257.4 L825.4,247.8 M778,262 L787,276.6 M793.4,278.2 C805,268 820,264 833.4,263.8 M801.4,278.2 L879.8,294.2 M801.4,219 L823.8,210.2" stroke="#aaa" stroke-width="0.9" fill="none"/>
<path d="M779,257.4 L800.6,219 M781,258 L802,220" stroke="#b0b0b0" stroke-width="0.8" fill="none"/>
<path d="M849.4,267 L889.4,281.4 L888,284.5 L848,270 Z" stroke="#aaa" stroke-width="0.9" fill="none"/>
<path d="M822.2,219 L825,219 L825.4,242.2 L822.6,242.2 Z" stroke="#aaa" stroke-width="0.8" fill="none"/>
<path d="M839.8,239.8 L838.2,251 M837,244 L841,246" stroke="#888" stroke-width="1" fill="none"/>
<polyline points="824.3,227.2 915,227.2" stroke="#222" stroke-width="1.5" fill="none"/>
<polyline points="878,276.6 878,237 915,237" stroke="#222" stroke-width="1.5" fill="none"/>
<line x1="917.5" y1="227.2" x2="927.5" y2="227.2" stroke="#222" stroke-width="1.5"/>
<line x1="917.5" y1="237" x2="927.5" y2="237" stroke="#222" stroke-width="1.5"/>
<rect x="899.2" y="242.4" width="20.4" height="9.2" rx="0" stroke="none" stroke-width="0" fill="#c2c2c2"/>
<text x="903.5" y="249.6" font-family="Liberation Sans, sans-serif" font-weight="bold" font-style="normal" font-size="6.6" fill="#111" textLength="12" lengthAdjust="spacingAndGlyphs">ESC</text>
<line x1="920.5" y1="246.8" x2="927.5" y2="246.8" stroke="#222" stroke-width="1.5"/>
<polyline points="974,220 932.4,220 932.4,261.2" stroke="#222" stroke-width="1.5" fill="none"/>
<text x="936.4" y="229.6" font-family="Liberation Serif, sans-serif" font-weight="normal" font-style="normal" font-size="7.2" fill="#333" stroke="#333" stroke-width="0.1">AIL</text>
<text x="936.4" y="239.8" font-family="Liberation Serif, sans-serif" font-weight="normal" font-style="normal" font-size="7.2" fill="#333" stroke="#333" stroke-width="0.1">ELE</text>
<text x="936.4" y="248.6" font-family="Liberation Serif, sans-serif" font-weight="normal" font-style="normal" font-size="7.2" fill="#333" stroke="#333" stroke-width="0.1">THR</text>
<text x="936.4" y="258.2" font-family="Liberation Serif, sans-serif" font-weight="normal" font-style="normal" font-size="7.2" fill="#333" stroke="#333" stroke-width="0.1">RUD</text>
<path d="M545,374 L710,336 C716,333 713,326 705,326.5 C660,330 600,341 542,363.5 C536,366 537,376 545,374 Z" stroke="#a8a8a8" stroke-width="1" fill="#fff"/>
<path d="M607,340 C603,332 604,325 608,324 C614,326 618,332 619,338" stroke="#a8a8a8" stroke-width="1" fill="#fff"/>
<line x1="606" y1="322" x2="607" y2="324" stroke="#999" stroke-width="1"/>
<path d="M626,356 L631,368 L650,385 L655,382 M640,355 L657,376" stroke="#a8a8a8" stroke-width="1" fill="none"/>
<line x1="629" y1="344" x2="652" y2="376" stroke="#999" stroke-width="0.8" stroke-dasharray="2.5 2"/>
<path d="M645,354 L680,345.5 C686,345 687,349 684,352 L660,373 L655,371 Z" stroke="#a8a8a8" stroke-width="1" fill="#fff"/>
<path d="M659,369 L682,351" stroke="#555" stroke-width="1.3" fill="none"/>
<path d="M634,367 L650,374" stroke="#555" stroke-width="1.1" fill="none"/>
<circle cx="658" cy="378.5" r="3.6" stroke="#a8a8a8" stroke-width="1.2" fill="#fff"/>
<line x1="669" y1="343.6" x2="696.6" y2="337.3" stroke="#3a3a3a" stroke-width="2.8"/>
<line x1="562" y1="370.5" x2="604.7" y2="361.3" stroke="#c2c2c2" stroke-width="2.8"/>
<path d="M643,341 L645,345 C640,353 624,358 618,352 C612,346 614,336 621,331 L623.5,329 L621,324.5 L645,318.5 L639,337 L634.5,333 C628,337 624,344 627,347 C631,351 639,347 643,341 Z" stroke="#6a6a6a" stroke-width="1" fill="#c6c6c6"/>
<path d="M618,352 C621,347 624,345 627,347" stroke="#888" stroke-width="0.8" fill="none"/>
<polygon points="702,343.5 706.5,356.5 702,353.5 697.5,356.5" stroke="#111" stroke-width="0.5" fill="#111"/>
<polygon points="575,391 579.5,378 575,381 570.5,378" stroke="#111" stroke-width="0.5" fill="#111"/>
<line x1="550" y1="397.5" x2="577" y2="424.5" stroke="#cfcfcf" stroke-width="6.5" stroke-linecap="round"/>
<line x1="577" y1="397.5" x2="550" y2="424.5" stroke="#cfcfcf" stroke-width="6.5" stroke-linecap="round"/>
<path d="M779,374 L944,336 C950,333 947,326 939,326.5 C894,330 834,341 776,363.5 C770,366 771,376 779,374 Z" stroke="#a8a8a8" stroke-width="1" fill="#fff"/>
<path d="M841,340 C837,332 838,325 842,324 C848,326 852,332 853,338" stroke="#a8a8a8" stroke-width="1" fill="#fff"/>
<line x1="840" y1="322" x2="841" y2="324" stroke="#999" stroke-width="1"/>
<path d="M860,356 L865,368 L884,385 L889,382 M874,355 L891,376" stroke="#a8a8a8" stroke-width="1" fill="none"/>
<line x1="863" y1="344" x2="886" y2="376" stroke="#999" stroke-width="0.8" stroke-dasharray="2.5 2"/>
<path d="M879,354 L914,345.5 C920,345 921,349 918,352 L894,373 L889,371 Z" stroke="#a8a8a8" stroke-width="1" fill="#fff"/>
<path d="M893,369 L916,351" stroke="#555" stroke-width="1.3" fill="none"/>
<path d="M868,367 L884,374" stroke="#555" stroke-width="1.1" fill="none"/>
<circle cx="892" cy="378.5" r="3.6" stroke="#a8a8a8" stroke-width="1.2" fill="#fff"/>
<line x1="796" y1="370.5" x2="838.7" y2="361.3" stroke="#3a3a3a" stroke-width="2.8"/>
<line x1="903" y1="343.6" x2="930.6" y2="337.3" stroke="#c2c2c2" stroke-width="2.8"/>
<path d="M877,341 L879,345 C874,353 858,358 852,352 C846,346 848,336 855,331 L857.5,329 L855,324.5 L879,318.5 L873,337 L868.5,333 C862,337 858,344 861,347 C865,351 873,347 877,341 Z" stroke="#6a6a6a" stroke-width="1" fill="#c6c6c6"/>
<path d="M852,352 C855,347 858,345 861,347" stroke="#888" stroke-width="0.8" fill="none"/>
<polygon points="806,378 810.5,391 806,388 801.5,391" stroke="#111" stroke-width="0.5" fill="#111"/>
<polygon points="935,357 939.5,344 935,347 930.5,344" stroke="#111" stroke-width="0.5" fill="#111"/>
<polyline points="787,413 797,425 819,401" stroke="#cfcfcf" stroke-width="6" fill="none" stroke-linecap="round" stroke-linejoin="round"/>
<polygon points="603.5,398 611.5,398 617.5,428.5 612,428.5 610.5,422 605,422 603.5,428.5 598,428.5" stroke="#d0d0d0" stroke-width="0.5" fill="#d0d0d0"/>
<path d="M657,398 L668,398 C674.5,398 675,411 670.5,413 C676,415 675.5,428.5 668,428.5 L657,428.5 Z" stroke="#d0d0d0" stroke-width="0.5" fill="#d0d0d0"/>
<line x1="605.5" y1="400.8" x2="609.5" y2="400.8" stroke="#111" stroke-width="1.8"/>
<path d="M608,403.5 C603.5,409 604,415 608.5,419.5" stroke="#111" stroke-width="1.3" fill="none"/>
<polygon points="606.2,418.2 610.8,417.2 609.8,422.3" stroke="#111" stroke-width="0.5" fill="#111"/>
<line x1="605.4" y1="424.5" x2="609.4" y2="424.5" stroke="#223" stroke-width="1.1"/>
<line x1="607.4" y1="422.5" x2="607.4" y2="426.5" stroke="#223" stroke-width="1.1"/>
<line x1="664" y1="400.8" x2="668" y2="400.8" stroke="#111" stroke-width="1.8"/>
<path d="M666,403.5 C670.5,409 670,415 665.5,419.5" stroke="#111" stroke-width="1.3" fill="none"/>
<polygon points="667.8,418.2 663.2,417.2 664.2,422.3" stroke="#111" stroke-width="0.5" fill="#111"/>
<line x1="663.4" y1="423.8" x2="667.4" y2="423.8" stroke="#111" stroke-width="1.1"/>
<line x1="665.4" y1="421.8" x2="665.4" y2="425.8" stroke="#111" stroke-width="1.1"/>
<line x1="618" y1="412" x2="623.5" y2="412" stroke="#707070" stroke-width="3.5"/>
<line x1="649.5" y1="412" x2="655" y2="412" stroke="#707070" stroke-width="3.5"/>
<line x1="636.5" y1="391.5" x2="636.5" y2="402" stroke="#555" stroke-width="1.6"/>
<circle cx="636.5" cy="412" r="10" stroke="#5a5a5a" stroke-width="2.8" fill="#fff"/>
<line x1="636.5" y1="403" x2="636.5" y2="421" stroke="#8aa" stroke-width="0.6"/>
<line x1="631.0" y1="406" x2="642.0" y2="418" stroke="#e0202a" stroke-width="4"/>
<circle cx="636.0" cy="405.5" r="1.7" stroke="#111" stroke-width="0.5" fill="#111"/>
<circle cx="630.0" cy="413" r="1.7" stroke="#111" stroke-width="0.5" fill="#111"/>
<text x="624.0" y="439.5" font-family="Liberation Sans, sans-serif" font-weight="bold" font-style="normal" font-size="12.5" fill="#f4f4f4" textLength="24" lengthAdjust="spacingAndGlyphs" stroke="#2a2a2a" stroke-width="0.7">AiL</text>
<polygon points="846.1,398 854.1,398 860.1,428.5 854.6,428.5 853.1,422 847.6,422 846.1,428.5 840.6,428.5" stroke="#d0d0d0" stroke-width="0.5" fill="#d0d0d0"/>
<path d="M899.6,398 L910.6,398 C917.1,398 917.6,411 913.1,413 C918.6,415 918.1,428.5 910.6,428.5 L899.6,428.5 Z" stroke="#d0d0d0" stroke-width="0.5" fill="#d0d0d0"/>
<line x1="848.1" y1="400.8" x2="852.1" y2="400.8" stroke="#111" stroke-width="1.8"/>
<path d="M850.6,403.5 C846.1,409 846.6,415 851.1,419.5" stroke="#111" stroke-width="1.3" fill="none"/>
<polygon points="848.8000000000001,418.2 853.4,417.2 852.4,422.3" stroke="#111" stroke-width="0.5" fill="#111"/>
<line x1="848.0" y1="424.5" x2="852.0" y2="424.5" stroke="#223" stroke-width="1.1"/>
<line x1="850.0" y1="422.5" x2="850.0" y2="426.5" stroke="#223" stroke-width="1.1"/>
<line x1="906.6" y1="400.8" x2="910.6" y2="400.8" stroke="#111" stroke-width="1.8"/>
<path d="M908.6,403.5 C913.1,409 912.6,415 908.1,419.5" stroke="#111" stroke-width="1.3" fill="none"/>
<polygon points="910.4,418.2 905.8000000000001,417.2 906.8000000000001,422.3" stroke="#111" stroke-width="0.5" fill="#111"/>
<line x1="906.0" y1="423.8" x2="910.0" y2="423.8" stroke="#111" stroke-width="1.1"/>
<line x1="908.0" y1="421.8" x2="908.0" y2="425.8" stroke="#111" stroke-width="1.1"/>
<line x1="860.6" y1="412" x2="866.1" y2="412" stroke="#707070" stroke-width="3.5"/>
<line x1="892.1" y1="412" x2="897.6" y2="412" stroke="#707070" stroke-width="3.5"/>
<line x1="879.1" y1="391.5" x2="879.1" y2="402" stroke="#555" stroke-width="1.6"/>
<circle cx="879.1" cy="412" r="10" stroke="#5a5a5a" stroke-width="2.8" fill="#fff"/>
<line x1="879.1" y1="403" x2="879.1" y2="421" stroke="#8aa" stroke-width="0.6"/>
<line x1="873.6" y1="418" x2="884.6" y2="406" stroke="#36d436" stroke-width="4"/>
<circle cx="883.1" cy="406" r="1.7" stroke="#111" stroke-width="0.5" fill="#111"/>
<circle cx="885.1" cy="412.5" r="1.7" stroke="#111" stroke-width="0.5" fill="#111"/>
<text x="866.6" y="439.5" font-family="Liberation Sans, sans-serif" font-weight="bold" font-style="normal" font-size="12.5" fill="#f4f4f4" textLength="24" lengthAdjust="spacingAndGlyphs" stroke="#2a2a2a" stroke-width="0.7">AiL</text>
<path d="M516,516 L530,505 L545,478 L558,463 L564.5,460.5 L563.5,473 L566,475 L563.5,478 L564,495 L571,500 L572,506 L568,510 L574,512 L583,514 L615,526 L627,522 L633,520 L629,534 L632,538 L611,539.5 L540,531 L522,525 Z" stroke="#b5b5b5" stroke-width="1" fill="#fff"/>
<path d="M525,508 L565,496" stroke="#c8c8c8" stroke-width="0.8" fill="none"/>
<path d="M532,524 C548,512 575,510 590,514" stroke="#c8c8c8" stroke-width="0.8" fill="none"/>
<path d="M545,528 L612,538" stroke="#c8c8c8" stroke-width="0.8" fill="none"/>
<path d="M524,511 L535,525" stroke="#c8c8c8" stroke-width="0.8" fill="none"/>
<line x1="561.2" y1="478" x2="563" y2="495.5" stroke="#9a9a9a" stroke-width="4"/>
<line x1="561.2" y1="478" x2="563" y2="495.5" stroke="#c2ecd2" stroke-width="2.6"/>
<line x1="582.3" y1="514.4" x2="611.5" y2="525.4" stroke="#2a2a2a" stroke-width="5.4"/>
<line x1="582.3" y1="514.4" x2="611.5" y2="525.4" stroke="#86eab0" stroke-width="3.4"/>
<polygon points="574.3,470 577.3,476 575.0999999999999,475 575.0999999999999,478.0 573.5,478.0 573.5,475 571.3,476" stroke="#9a9a9a" stroke-width="0.4" fill="#9a9a9a"/>
<polygon points="574.3,486 577.3,480 575.0999999999999,481 575.0999999999999,478.0 573.5,478.0 573.5,481 571.3,480" stroke="#111" stroke-width="0.4" fill="#111"/>
<polygon points="607,495 610,501 607.8,500 607.8,503.0 606.2,503.0 606.2,500 604,501" stroke="#111" stroke-width="0.4" fill="#111"/>
<polygon points="607,511 610,505 607.8,506 607.8,503.0 606.2,503.0 606.2,506 604,505" stroke="#9a9a9a" stroke-width="0.4" fill="#9a9a9a"/>
<line x1="642.6" y1="482.6" x2="642.6" y2="518" stroke="#888" stroke-width="2"/>
<path d="M691.5500000000001,477 L691.5500000000001,467 L695.15,467 L695.15,477" stroke="#333" stroke-width="1" fill="#fff"/>
<path d="M691.5500000000001,468 L693.35,464.5 L721.35,462.5 C724.35,462.5 724.35,466 721.35,466 L695.15,468" stroke="#333" stroke-width="1.1" fill="#fff"/>
<rect x="685.85" y="475.5" width="15" height="4.5" rx="2" stroke="#333" stroke-width="1" fill="#fff"/>
<rect x="655" y="480" width="77" height="58" rx="10" stroke="#2a2a2a" stroke-width="1.5" fill="#fff"/>
<circle cx="673" cy="497.5" r="11.5" stroke="#111" stroke-width="1.6" fill="#fff"/>
<line x1="662" y1="494.0" x2="684" y2="494.0" stroke="#111" stroke-width="1.1"/>
<line x1="662" y1="501.0" x2="684" y2="501.0" stroke="#111" stroke-width="1.1"/>
<rect x="669.4" y="494.1" width="7.2" height="6.8" rx="0" stroke="none" stroke-width="0" fill="#fff"/>
<circle cx="712.7" cy="497.5" r="11.5" stroke="#111" stroke-width="1.6" fill="#fff"/>
<line x1="701.7" y1="494.0" x2="723.7" y2="494.0" stroke="#111" stroke-width="1.1"/>
<line x1="701.7" y1="501.0" x2="723.7" y2="501.0" stroke="#111" stroke-width="1.1"/>
<rect x="709.1" y="494.1" width="7.2" height="6.8" rx="0" stroke="none" stroke-width="0" fill="#fff"/>
<circle cx="673" cy="497.5" r="2.4" stroke="#111" stroke-width="1.2" fill="#fff"/>
<circle cx="712.7" cy="497.5" r="2.9" stroke="#111" stroke-width="0.5" fill="#111"/>
<text x="659.5" y="527.5" font-family="Liberation Mono, sans-serif" font-weight="normal" font-style="normal" font-size="9" fill="#1a1a1a" stroke="#1a1a1a" stroke-width="0.45" textLength="41.5" lengthAdjust="spacingAndGlyphs">TEST AIL</text>
<polygon points="705,523.6 714,519.5 714,527.7" stroke="#111" stroke-width="0.4" fill="#111"/>
<polygon points="726,523.6 717,519.5 717,527.7" stroke="#999" stroke-width="0.4" fill="#999"/>
<line x1="712" y1="523.6" x2="719" y2="523.6" stroke="#777" stroke-width="2"/>
<path d="M756.5,516 L770.5,505 L785.5,478 L798.5,463 L805.0,460.5 L804.0,473 L806.5,475 L804.0,478 L804.5,495 L811.5,500 L812.5,506 L808.5,510 L814.5,512 L823.5,514 L855.5,526 L867.5,522 L873.5,520 L869.5,534 L872.5,538 L851.5,539.5 L780.5,531 L762.5,525 Z" stroke="#b5b5b5" stroke-width="1" fill="#fff"/>
<path d="M765.5,508 L805.5,496" stroke="#c8c8c8" stroke-width="0.8" fill="none"/>
<path d="M772.5,524 C788.5,512 815.5,510 830.5,514" stroke="#c8c8c8" stroke-width="0.8" fill="none"/>
<path d="M785.5,528 L852.5,538" stroke="#c8c8c8" stroke-width="0.8" fill="none"/>
<path d="M764.5,511 L775.5,525" stroke="#c8c8c8" stroke-width="0.8" fill="none"/>
<line x1="803.6" y1="476.8" x2="805" y2="494" stroke="#555" stroke-width="4"/>
<line x1="803.6" y1="476.8" x2="805" y2="494" stroke="#9be8bc" stroke-width="2.4"/>
<line x1="823" y1="514.3" x2="852" y2="524.2" stroke="#2a2a2a" stroke-width="5.4"/>
<line x1="823" y1="514.3" x2="852" y2="524.2" stroke="#86eab0" stroke-width="3.4"/>
<polygon points="814,466.5 817,472.5 814.8,471.5 814.8,475.1 813.2,475.1 813.2,471.5 811,472.5" stroke="#111" stroke-width="0.4" fill="#111"/>
<polygon points="814,483.7 817,477.7 814.8,478.7 814.8,475.1 813.2,475.1 813.2,478.7 811,477.7" stroke="#9a9a9a" stroke-width="0.4" fill="#9a9a9a"/>
<polygon points="850.7,497.5 853.7,503.5 851.5,502.5 851.5,505.55 849.9000000000001,505.55 849.9000000000001,502.5 847.7,503.5" stroke="#111" stroke-width="0.4" fill="#111"/>
<polygon points="850.7,513.6 853.7,507.6 851.5,508.6 851.5,505.55 849.9000000000001,505.55 849.9000000000001,508.6 847.7,507.6" stroke="#9a9a9a" stroke-width="0.4" fill="#9a9a9a"/>
<line x1="881.8" y1="482.6" x2="881.8" y2="518" stroke="#888" stroke-width="2"/>
<path d="M931.1,477 L931.1,467 L934.6999999999999,467 L934.6999999999999,477" stroke="#333" stroke-width="1" fill="#fff"/>
<path d="M931.1,468 L932.9,464.5 L960.9,462.5 C963.9,462.5 963.9,466 960.9,466 L934.6999999999999,468" stroke="#333" stroke-width="1.1" fill="#fff"/>
<rect x="925.4" y="475.5" width="15" height="4.5" rx="2" stroke="#333" stroke-width="1" fill="#fff"/>
<rect x="894.4" y="480" width="73.60000000000002" height="57.799999999999955" rx="10" stroke="#2a2a2a" stroke-width="1.5" fill="#fff"/>
<circle cx="912.8" cy="497.5" r="11.5" stroke="#111" stroke-width="1.6" fill="#fff"/>
<line x1="901.8" y1="494.0" x2="923.8" y2="494.0" stroke="#111" stroke-width="1.1"/>
<line x1="901.8" y1="501.0" x2="923.8" y2="501.0" stroke="#111" stroke-width="1.1"/>
<rect x="909.1999999999999" y="494.1" width="7.2" height="6.8" rx="0" stroke="none" stroke-width="0" fill="#fff"/>
<circle cx="952" cy="497.5" r="11.5" stroke="#111" stroke-width="1.6" fill="#fff"/>
<line x1="941" y1="494.0" x2="963" y2="494.0" stroke="#111" stroke-width="1.1"/>
<line x1="941" y1="501.0" x2="963" y2="501.0" stroke="#111" stroke-width="1.1"/>
<rect x="948.4" y="494.1" width="7.2" height="6.8" rx="0" stroke="none" stroke-width="0" fill="#fff"/>
<circle cx="912.8" cy="497.5" r="2.4" stroke="#111" stroke-width="1.2" fill="#fff"/>
<circle cx="952" cy="497.5" r="2.9" stroke="#111" stroke-width="0.5" fill="#111"/>
<text x="901" y="527.3" font-family="Liberation Mono, sans-serif" font-weight="normal" font-style="normal" font-size="9" fill="#1a1a1a" stroke="#1a1a1a" stroke-width="0.45" textLength="40.5" lengthAdjust="spacingAndGlyphs">TEST ELE</text>
<polygon points="952,514 956,522 948,522" stroke="#999" stroke-width="0.4" fill="#999"/>
<polygon points="952,534 956,525 948,525" stroke="#111" stroke-width="0.4" fill="#111"/>
<line x1="952" y1="521" x2="952" y2="527" stroke="#555" stroke-width="2"/>
<rect x="61.25" y="745" width="38.25" height="27.5" rx="5" stroke="#222" stroke-width="1.5" fill="#fff"/>
<line x1="79.375" y1="745" x2="79.375" y2="739" stroke="#222" stroke-width="1.6"/>
<path d="M78.375,739 L92.375,736.5" stroke="#333" stroke-width="2.4" fill="none" stroke-linecap="round"/>
<rect x="74.375" y="742.5" width="11" height="2.5" rx="1" stroke="#222" stroke-width="0.8" fill="#fff"/>
<circle cx="71.25" cy="752.5" r="5.2" stroke="#222" stroke-width="1.4" fill="#fff"/>
<circle cx="66.75" cy="755.5" r="1.5" stroke="#111" stroke-width="0.5" fill="#111"/>
<circle cx="89.5" cy="752.5" r="5.2" stroke="#222" stroke-width="1.4" fill="#fff"/>
<circle cx="94.0" cy="755.5" r="1.5" stroke="#111" stroke-width="0.5" fill="#111"/>
<polygon points="67.25,766 70.25,763 70.75,767" stroke="#111" stroke-width="0.5" fill="#111"/>
<polygon points="93.5,766 90.5,763 90.0,767" stroke="#111" stroke-width="0.5" fill="#111"/>
<rect x="108.75" y="745" width="36.25" height="27.5" rx="5" stroke="#222" stroke-width="1.5" fill="#fff"/>
<line x1="125.875" y1="745" x2="125.875" y2="739" stroke="#222" stroke-width="1.6"/>
<path d="M124.875,739 L138.875,736.5" stroke="#333" stroke-width="2.4" fill="none" stroke-linecap="round"/>
<rect x="120.875" y="742.5" width="11" height="2.5" rx="1" stroke="#222" stroke-width="0.8" fill="#fff"/>
<circle cx="118.75" cy="752.5" r="5.2" stroke="#222" stroke-width="1.4" fill="#fff"/>
<circle cx="123.25" cy="755.5" r="1.5" stroke="#111" stroke-width="0.5" fill="#111"/>
<circle cx="135" cy="752.5" r="5.2" stroke="#222" stroke-width="1.4" fill="#fff"/>
<circle cx="130.5" cy="755.5" r="1.5" stroke="#111" stroke-width="0.5" fill="#111"/>
<polygon points="114.75,766 117.75,763 118.25,767" stroke="#111" stroke-width="0.5" fill="#111"/>
<polygon points="139,766 136,763 135.5,767" stroke="#111" stroke-width="0.5" fill="#111"/>
</svg>
</body></html>
